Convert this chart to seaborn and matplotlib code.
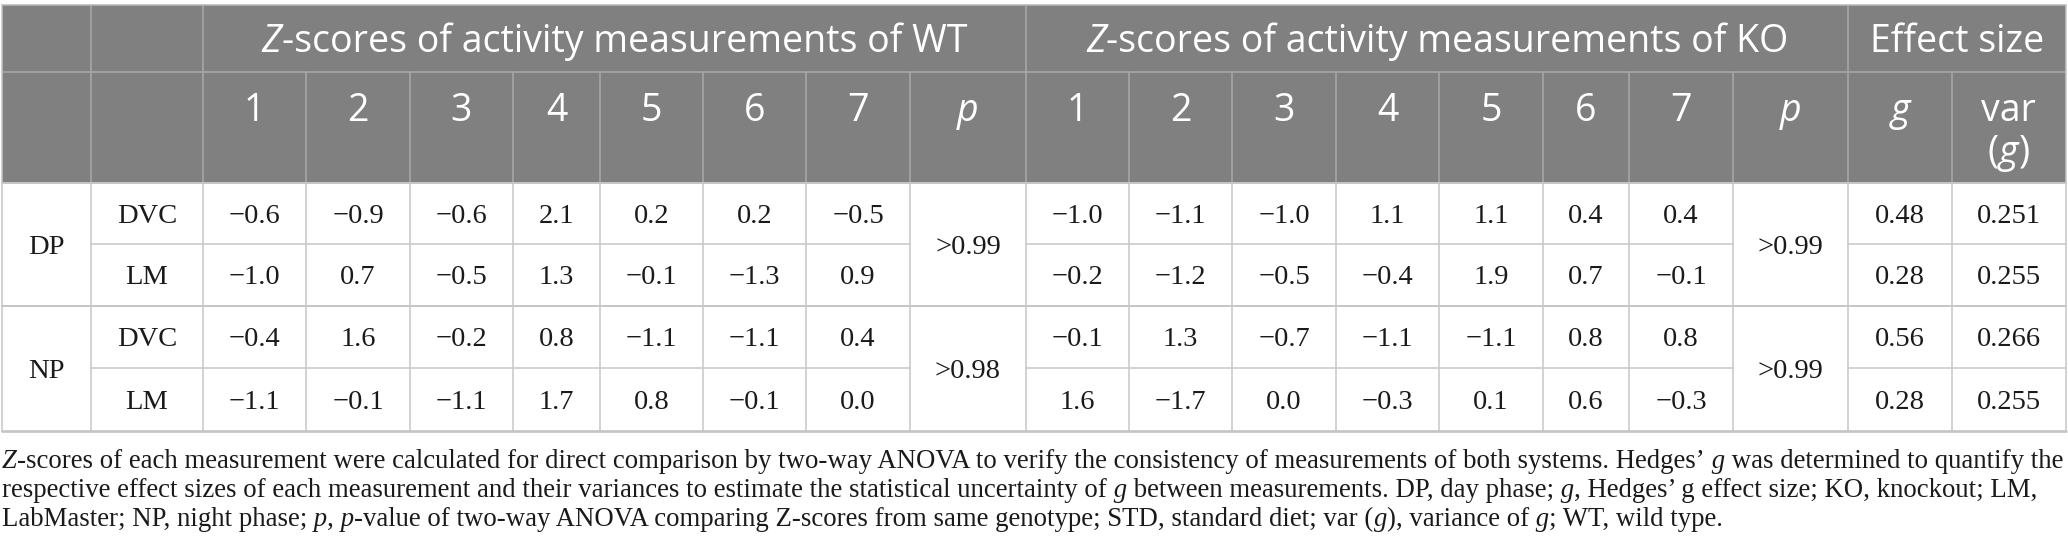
import matplotlib
matplotlib.use("Agg")
import matplotlib.pyplot as plt
from matplotlib.patches import Rectangle
import numpy as np
import pandas as pd
import seaborn as sns

# ---------------- data ----------------
phases = ["DP", "NP"]
systems = ["DVC", "LM"]
measurements = ["1", "2", "3", "4", "5", "6", "7"]

wt_dp_dvc = [-0.6, -0.9, -0.6, 2.1, 0.2, 0.2, -0.5]
wt_dp_lm = [-1.0, 0.7, -0.5, 1.3, -0.1, -1.3, 0.9]
wt_np_dvc = [-0.4, 1.6, -0.2, 0.8, -1.1, -1.1, 0.4]
wt_np_lm = [-1.1, -0.1, -1.1, 1.7, 0.8, -0.1, 0.0]

ko_dp_dvc = [-1.0, -1.1, -1.0, 1.1, 1.1, 0.4, 0.4]
ko_dp_lm = [-0.2, -1.2, -0.5, -0.4, 1.9, 0.7, -0.1]
ko_np_dvc = [-0.1, 1.3, -0.7, -1.1, -1.1, 0.8, 0.8]
ko_np_lm = [1.6, -1.7, 0.0, -0.3, 0.1, 0.6, -0.3]

wt_p = [">0.99", ">0.98"]
ko_p = [">0.99", ">0.99"]
hedges_g = [0.48, 0.28, 0.56, 0.28]
var_g = [0.251, 0.255, 0.266, 0.255]

wt_title = "Z-scores of activity measurements of WT"
ko_title = "Z-scores of activity measurements of KO"
es_title = "Effect size"

caption_lines = [
    [("Z", "italic"), ("-scores of each measurement were calculated for direct comparison by two-way ANOVA to verify the consistency of measurements of both systems. Hedges\u2019", "normal"), (" g", "italic"), (" was determined to quantify the", "normal")],
    [("respective effect sizes of each measurement and their variances to estimate the statistical uncertainty of", "normal"), (" g", "italic"), (" between measurements. DP, day phase;", "normal"), (" g", "italic"), (", Hedges\u2019 g effect size; KO, knockout; LM,", "normal")],
    [("LabMaster; NP, night phase;", "normal"), (" p", "italic"), (",", "normal"), (" p", "italic"), ("-value of two-way ANOVA comparing Z-scores from same genotype; STD, standard diet; var (", "normal"), ("g", "italic"), ("), variance of", "normal"), (" g", "italic"), ("; WT, wild type.", "normal")],
]

wt_rows = [wt_dp_dvc, wt_dp_lm, wt_np_dvc, wt_np_lm]
ko_rows = [ko_dp_dvc, ko_dp_lm, ko_np_dvc, ko_np_lm]
records = []
for i, (wt, ko) in enumerate(zip(wt_rows, ko_rows)):
    records.append(dict(phase=phases[i // 2], system=systems[i % 2],
                        wt=wt, ko=ko, g=hedges_g[i], var=var_g[i]))
table = pd.DataFrame(records)

# ---------------- style ----------------
sns.set_theme(style="white")
SERIF = ["Liberation Serif", "DejaVu Serif"]
SANS = ["Open Sans", "DejaVu Sans"]
plt.rcParams["font.family"] = SERIF

HEAD_BG = "#808080"
HEAD_LINE = "#a9a9a9"
BODY_LINE = "#c6c6c6"

W, H = 2068, 558
fig = plt.figure(figsize=(W / 100, H / 100), dpi=100)
fig.patch.set_facecolor("white")
ax = fig.add_axes([0, 0, 1, 1])
ax.set_xlim(0, W)
ax.set_ylim(H, 0)
ax.axis("off")
renderer = fig.canvas.get_renderer()

col_edges = [1.5, 91, 203, 306, 410, 513, 600, 703, 806, 910, 1026,
             1129, 1232, 1336, 1439, 1543, 1629, 1733, 1848, 1952, 2065.5]
row_edges = [4.5, 72, 183, 244, 306, 368, 430.5]
X0, X1 = col_edges[0], col_edges[-1]


def cc(i, j=None):
    j = i if j is None else j
    return (col_edges[i] + col_edges[j + 1]) / 2


def rc(i, j=None):
    j = i if j is None else j
    return (row_edges[i] + row_edges[j + 1]) / 2


def rich(x, y, segs, size, family, color, ha="left"):
    texts = []
    for s, st in segs:
        t = ax.text(0, y, s, fontsize=size, family=family, style=st,
                    color=color, ha="left", va="baseline")
        texts.append(t)
    widths = [t.get_window_extent(renderer).width for t in texts]
    total = sum(widths)
    xs = x - total / 2 if ha == "center" else x
    for t, w in zip(texts, widths):
        t.set_x(xs)
        xs += w
    return texts, total


# header background
ax.add_patch(Rectangle((X0, row_edges[0]), X1 - X0, row_edges[2] - row_edges[0],
                       facecolor=HEAD_BG, edgecolor="none", zorder=0))

lw = 1.1
# header lines
ax.plot([X0, X1], [row_edges[1]] * 2, color=HEAD_LINE, lw=lw, zorder=1)
for xe in [col_edges[1], col_edges[2], col_edges[10], col_edges[18]]:
    ax.plot([xe, xe], [row_edges[0], row_edges[1]], color=HEAD_LINE, lw=lw, zorder=1)
for xe in col_edges[1:-1]:
    ax.plot([xe, xe], [row_edges[1], row_edges[2]], color=HEAD_LINE, lw=lw, zorder=1)

# body lines
for ye in [row_edges[2], row_edges[4]]:
    ax.plot([X0, X1], [ye, ye], color=BODY_LINE, lw=lw * 1.3, zorder=1)
for ye in [row_edges[3], row_edges[5]]:
    for a, b in [(1, 8), (10, 16), (18, 19)]:
        ax.plot([col_edges[a], col_edges[b + 1]], [ye, ye], color=BODY_LINE, lw=lw, zorder=1)
for xe in col_edges[1:-1]:
    ax.plot([xe, xe], [row_edges[2], row_edges[-1]], color=BODY_LINE, lw=lw, zorder=1)
# outer border
ax.plot([X0, X1], [row_edges[0]] * 2, color="#b8b8b8", lw=lw, zorder=2)
ax.plot([X0, X1], [row_edges[-1]] * 2, color=BODY_LINE, lw=lw * 1.8, zorder=2)
ax.plot([X0, X0], [row_edges[0], row_edges[-1]], color=BODY_LINE, lw=lw, zorder=2)
ax.plot([X1, X1], [row_edges[0], row_edges[-1]], color=BODY_LINE, lw=lw, zorder=2)

# header text
HS = 27
HB1 = 52
HB2 = 121
rich(cc(2, 9), HB1, [(wt_title[0], "italic"), (wt_title[1:], "normal")], HS, SANS, "white", "center")
rich(cc(10, 17), HB1, [(ko_title[0], "italic"), (ko_title[1:], "normal")], HS, SANS, "white", "center")
rich(cc(18, 19), HB1, [(es_title, "normal")], HS, SANS, "white", "center")
for k, lab in enumerate(measurements):
    ax.text(cc(2 + k), HB2, lab, fontsize=HS, family=SANS, color="white", ha="center", va="baseline")
    ax.text(cc(10 + k), HB2, lab, fontsize=HS, family=SANS, color="white", ha="center", va="baseline")
for ci in [9, 17]:
    ax.text(cc(ci), HB2, "p", fontsize=HS, family=SANS, style="italic", color="white", ha="center", va="baseline")
ax.text(cc(18), HB2, "g", fontsize=HS, family=SANS, style="italic", color="white", ha="center", va="baseline")
ax.text(cc(19), HB2, "var", fontsize=HS, family=SANS, color="white", ha="center", va="baseline")
rich(cc(19), HB2 + 42, [("(", "normal"), ("g", "italic"), (")", "normal")], HS, SANS, "white", "center")

# body text
BS = 20.5
BOFF = 9.5


def fmt(v, nd):
    s = f"{v:.{nd}f}"
    return s.replace("-", "\u2212")


def body(x, yc, s):
    ax.text(x, yc + BOFF, s, fontsize=BS, family=SERIF, color="#1a1a1a", ha="center", va="baseline")


for pi, ph in enumerate(phases):
    body(cc(0), rc(2 + 2 * pi, 3 + 2 * pi), ph)
    body(cc(9), rc(2 + 2 * pi, 3 + 2 * pi), wt_p[pi])
    body(cc(17), rc(2 + 2 * pi, 3 + 2 * pi), ko_p[pi])
for ri, row in table.iterrows():
    yc = rc(2 + ri)
    body(cc(1), yc, row["system"])
    for k in range(7):
        body(cc(2 + k), yc, fmt(row["wt"][k], 1))
        body(cc(10 + k), yc, fmt(row["ko"][k], 1))
    body(cc(18), yc, fmt(row["g"], 2))
    body(cc(19), yc, fmt(row["var"], 3))

# caption
CS0 = 20
_, w1 = rich(0, -100, caption_lines[0], CS0, SERIF, "white")
for t in list(ax.texts)[-len(caption_lines[0]):]:
    t.remove()
CS = CS0 * 2054 / w1
cap_base = [468, 497, 526]
for line, yb in zip(caption_lines, cap_base):
    rich(2, yb, line, CS, SERIF, "#1a1a1a")

fig.savefig("out.png", dpi=100, facecolor="white")
